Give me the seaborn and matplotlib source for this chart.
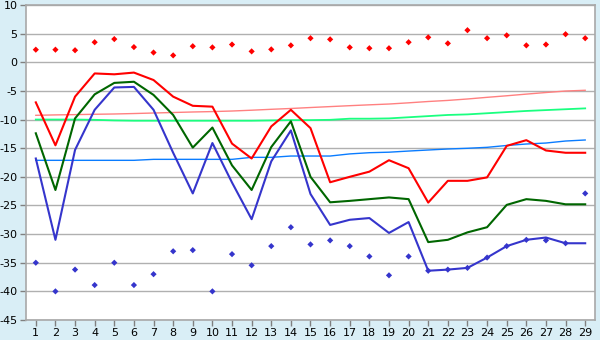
import numpy as np
import pandas as pd
import matplotlib
matplotlib.use("Agg")
import matplotlib.pyplot as plt
import seaborn as sns

categories = list(range(1, 30))

red_line = [-7.0, -14.5, -6.0, -1.95, -2.1, -1.8, -3.1, -6.0, -7.6, -7.75,
            -14.2, -16.8, -11.2, -8.3, -11.5, -20.95, -20.0, -19.1, -17.1, -18.5,
            -24.5, -20.7, -20.7, -20.1, -14.6, -13.6, -15.4, -15.8, -15.8]
green_line = [-12.4, -22.3, -9.8, -5.6, -3.6, -3.4, -5.7, -9.2, -14.9, -11.4,
              -18.0, -22.3, -14.8, -10.3, -20.0, -24.45, -24.2, -23.9, -23.6, -23.9,
              -31.4, -31.0, -29.7, -28.8, -24.9, -23.9, -24.2, -24.8, -24.8]
blue_line = [-16.8, -31.0, -15.3, -8.3, -4.4, -4.3, -8.3, -15.8, -22.9, -14.1,
             -21.0, -27.4, -17.3, -11.9, -23.0, -28.4, -27.5, -27.2, -29.8, -27.9,
             -36.4, -36.2, -35.9, -34.1, -32.1, -31.0, -30.6, -31.6, -31.6]

red_dots = [2.2, 2.2, 2.1, 3.5, 4.05, 2.65, 1.7, 1.2, 2.8, 2.6,
            3.1, 1.9, 2.25, 2.95, 4.2, 4.0, 2.6, 2.45, 2.45, 3.5,
            4.35, 3.3, 5.6, 4.2, 4.7, 2.95, 3.1, 4.9, 4.2]
blue_dots = [-35.0, -40.0, -36.2, -38.9, -35.0, -38.9, -37.0, -33.0, -32.8, -40.0,
             -33.5, -35.45, -32.1, -28.8, -31.8, -31.1, -32.1, -33.9, -37.2, -33.9,
             -36.4, -36.2, -35.9, -34.1, -32.1, -31.0, -31.1, -31.6, -22.9]

pink_trend = [-9.26, -9.19, -9.14, -9.08, -9.03, -8.95, -8.86, -8.77, -8.68, -8.61,
              -8.51, -8.37, -8.21, -8.07, -7.9, -7.74, -7.58, -7.43, -7.29, -7.08,
              -6.85, -6.66, -6.41, -6.12, -5.85, -5.56, -5.28, -5.02, -4.89]
mint_trend = [-10.0, -10.0, -10.0, -10.05, -10.15, -10.2, -10.2, -10.2, -10.2, -10.2,
              -10.2, -10.2, -10.15, -10.1, -10.1, -10.05, -9.85, -9.85, -9.8, -9.6,
              -9.4, -9.2, -9.1, -8.9, -8.7, -8.5, -8.35, -8.2, -8.05]
sky_trend = [-17.12, -17.12, -17.12, -17.12, -17.12, -17.12, -16.95, -16.95, -16.95, -16.95,
             -16.95, -16.6, -16.6, -16.37, -16.37, -16.37, -16.0, -15.79, -15.7, -15.5,
             -15.32, -15.14, -15.02, -14.85, -14.53, -14.27, -14.1, -13.75, -13.57]

y_ticks = list(range(-45, 11, 5))

BG = "#d9eef6"
fig = plt.figure(figsize=(6.0, 3.4), dpi=100, facecolor=BG)
ax = fig.add_axes([26/600, 1-320/340, (595-26)/600, (320-5)/340])
ax.set_facecolor("white")

lines = pd.DataFrame({
    "x": categories * 6,
    "y": pink_trend + mint_trend + sky_trend + red_line + green_line + blue_line,
    "s": (["pink"] * 29 + ["mint"] * 29 + ["sky"] * 29 +
          ["red"] * 29 + ["green"] * 29 + ["blue"] * 29),
})
palette = {"pink": "#ff8080", "mint": "#1aff80", "sky": "#0a7cff",
           "red": "#ff0000", "green": "#006600", "blue": "#3535cc"}
sizes = {"pink": 1.0, "mint": 1.3, "sky": 1.0, "red": 1.5, "green": 1.5, "blue": 1.5}
sns.lineplot(data=lines, x="x", y="y", hue="s", size="s", sizes=sizes,
             palette=palette, legend=False, ax=ax, estimator=None, sort=False)

dots = pd.DataFrame({
    "x": categories * 2,
    "y": red_dots + blue_dots,
    "s": ["red"] * 29 + ["blue"] * 29,
})
sns.scatterplot(data=dots, x="x", y="y", hue="s",
                palette={"red": "#ff0000", "blue": "#3535cc"},
                marker="D", s=10, linewidth=0, legend=False, ax=ax, zorder=5)

ax.set_xlim(0.5, 29.5)
ax.set_ylim(-45, 10)
ax.set_xticks(categories)
ax.set_xticklabels([str(c) for c in categories])
ax.set_yticks(y_ticks)
ax.set_yticklabels([str(t) for t in y_ticks])
ax.set_xlabel("")
ax.set_ylabel("")
ax.grid(axis="y", color="#b0b0b0", linewidth=1.0)
ax.grid(axis="x", visible=False)
ax.set_axisbelow(True)
for sp in ax.spines.values():
    sp.set_color("#a8a8a8")
    sp.set_linewidth(1.2)
ax.tick_params(axis="both", colors="#808080", labelcolor="black", labelsize=8,
               length=4, width=1, pad=2)
for lab in ax.get_xticklabels() + ax.get_yticklabels():
    lab.set_fontfamily("DejaVu Sans")

fig.savefig("out.png", dpi=100, facecolor=BG)
